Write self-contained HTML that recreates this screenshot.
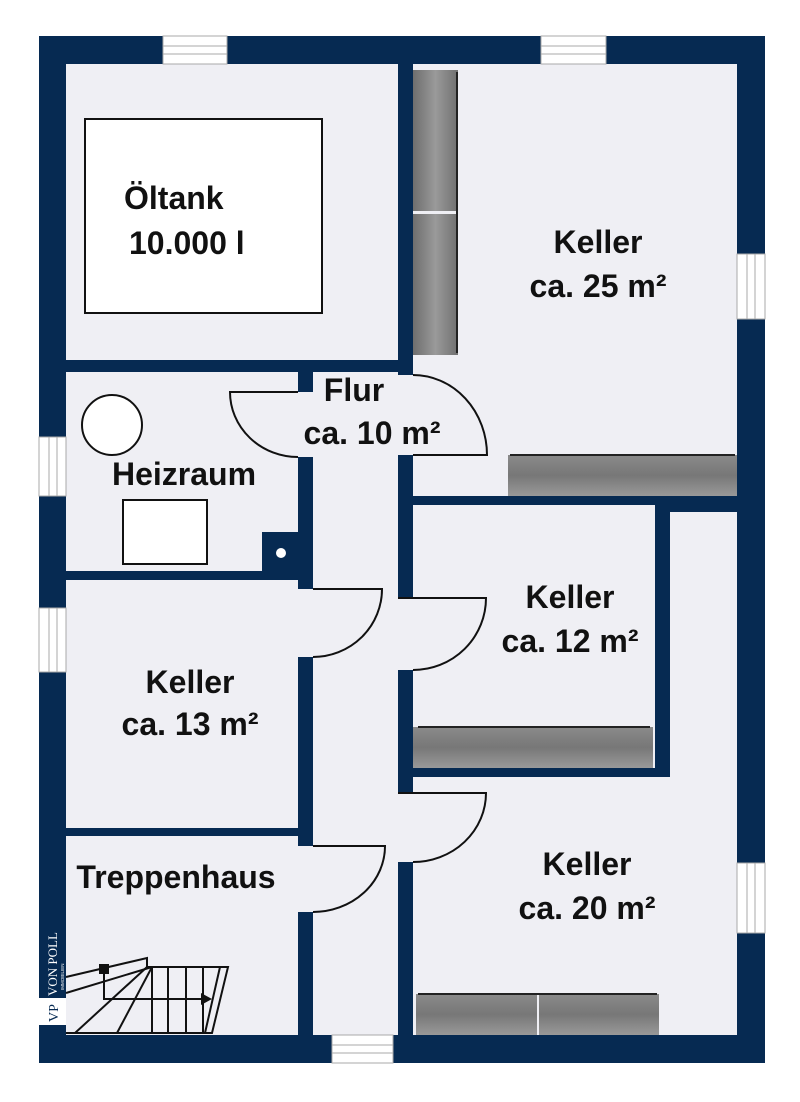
<!DOCTYPE html>
<html><head><meta charset="utf-8"><style>
html,body{margin:0;padding:0;background:#fff;}
svg{display:block;}
text{font-family:"Liberation Sans",Arial,sans-serif;font-weight:bold;fill:#111;}
</style></head><body>
<svg width="800" height="1102" viewBox="0 0 800 1102" xmlns="http://www.w3.org/2000/svg">
<defs>
<linearGradient id="gv" x1="0" y1="0" x2="1" y2="0"><stop offset="0" stop-color="#6e6e6e"/><stop offset="0.5" stop-color="#9a9a9a"/><stop offset="1" stop-color="#707070"/></linearGradient>
<linearGradient id="gh" x1="0" y1="0" x2="0" y2="1"><stop offset="0" stop-color="#8a8a8a"/><stop offset="0.5" stop-color="#777"/><stop offset="1" stop-color="#999"/></linearGradient>
</defs>
<rect x="39" y="36" width="726" height="1027" fill="#062a52"/>
<g fill="#efeff4">
<rect x="66" y="64" width="332" height="296"/>
<rect x="413" y="64" width="324" height="432"/>
<rect x="66" y="372" width="232" height="199"/>
<rect x="313" y="372" width="85" height="663"/>
<rect x="66" y="580" width="232" height="248"/>
<rect x="66" y="836" width="232" height="199"/>
<rect x="413" y="505" width="242" height="263"/>
<rect x="670" y="512" width="67" height="265"/>
<rect x="413" y="777" width="324" height="258"/>
<rect x="298" y="392" width="15" height="65"/>
<rect x="398" y="375" width="15" height="80"/>
<rect x="298" y="589" width="15" height="68"/>
<rect x="398" y="598" width="15" height="72"/>
<rect x="398" y="793" width="15" height="69"/>
<rect x="298" y="846" width="15" height="66"/>
</g>
<rect x="262" y="532" width="36" height="48" fill="#062a52"/>
<circle cx="281" cy="553" r="5" fill="#fff"/>
<g fill="#fff" stroke="#aaa" stroke-width="1">
<rect x="163" y="36" width="64" height="28"/><line x1="163" y1="46" x2="227" y2="46"/><line x1="163" y1="54" x2="227" y2="54"/>
<rect x="541" y="36" width="65" height="28"/><line x1="541" y1="46" x2="606" y2="46"/><line x1="541" y1="54" x2="606" y2="54"/>
<rect x="332" y="1035" width="61" height="28"/><line x1="332" y1="1045" x2="393" y2="1045"/><line x1="332" y1="1053" x2="393" y2="1053"/>
<rect x="39" y="437" width="27" height="59"/><line x1="49" y1="437" x2="49" y2="496"/><line x1="57" y1="437" x2="57" y2="496"/>
<rect x="39" y="608" width="27" height="64"/><line x1="49" y1="608" x2="49" y2="672"/><line x1="57" y1="608" x2="57" y2="672"/>
<rect x="737" y="254" width="28" height="65"/><line x1="747" y1="254" x2="747" y2="319"/><line x1="755" y1="254" x2="755" y2="319"/>
<rect x="737" y="863" width="28" height="70"/><line x1="747" y1="863" x2="747" y2="933"/><line x1="755" y1="863" x2="755" y2="933"/>
</g>
<rect x="413" y="70" width="45" height="141" fill="url(#gv)"/>
<rect x="413" y="214" width="45" height="141" fill="url(#gv)"/>
<line x1="457" y1="72" x2="457" y2="353" stroke="#222" stroke-width="2"/>
<rect x="508" y="455" width="229" height="41" fill="url(#gh)"/>
<line x1="510" y1="455" x2="735" y2="455" stroke="#222" stroke-width="2"/>
<rect x="413" y="727" width="240" height="41" fill="url(#gh)"/>
<line x1="418" y1="727" x2="650" y2="727" stroke="#222" stroke-width="2"/>
<rect x="416" y="994" width="121" height="41" fill="url(#gh)"/>
<rect x="539" y="994" width="120" height="41" fill="url(#gh)"/>
<line x1="418" y1="994" x2="657" y2="994" stroke="#222" stroke-width="2"/>
<rect x="85" y="119" width="237" height="194" fill="#fff" stroke="#111" stroke-width="2"/>
<circle cx="112" cy="425" r="30" fill="#fff" stroke="#111" stroke-width="2"/>
<rect x="123" y="500" width="84" height="64" fill="#fff" stroke="#111" stroke-width="2"/>
<g fill="none" stroke="#111" stroke-width="2">
<path d="M298,392 L230,392 A68,65 0 0 0 298,457"/>
<path d="M413,455 L487,455 A74,80 0 0 0 413,375"/>
<path d="M313,589 L382,589 A69,68 0 0 1 313,657"/>
<path d="M398,598 L486,598 A73,72 0 0 1 413,670"/>
<path d="M398,793 L486,793 A73,69 0 0 1 413,862"/>
<path d="M313,846 L385,846 A72,66 0 0 1 313,912"/>
</g>
<g fill="none" stroke="#111" stroke-width="2">
<path d="M66,1033 L212,1033 L228,967 L147,967 L147,958 L66,977"/>
<line x1="220" y1="967" x2="205" y2="1033"/>
<line x1="66" y1="993" x2="152" y2="967"/>
<line x1="75" y1="1033" x2="147" y2="967"/>
<line x1="117" y1="1033" x2="152" y2="967"/>
<line x1="152" y1="967" x2="152" y2="1033"/>
<line x1="168" y1="967" x2="168" y2="1033"/>
<line x1="186" y1="967" x2="186" y2="1033"/>
<line x1="203" y1="967" x2="203" y2="1033"/>
<path d="M104,969 L104,999 L203,999"/>
</g>
<rect x="99" y="964" width="10" height="10" fill="#111"/>
<path d="M201,993 L212,999 L201,1005 Z" fill="#111"/>
<text transform="translate(57,996) rotate(-90)" font-size="13" style="font-family:'Liberation Serif',serif;font-weight:normal;fill:#fff">VON POLL</text>
<text transform="translate(64,990) rotate(-90)" font-size="4.5" style="font-weight:normal;fill:#fff">IMMOBILIEN</text>
<rect x="39" y="998" width="27" height="27" fill="#fff"/>
<text transform="translate(58,1022) rotate(-90)" font-size="14" style="font-family:'Liberation Serif',serif;font-weight:normal;fill:#062a52">VP</text>
<g font-size="32">
<text x="124" y="209">Öltank</text>
<text x="129" y="254">10.000 l</text>
<text x="354" y="401" text-anchor="middle">Flur</text>
<text x="372" y="444" text-anchor="middle">ca. 10 m²</text>
<text x="184" y="485" text-anchor="middle">Heizraum</text>
<text x="598" y="253" text-anchor="middle">Keller</text>
<text x="598" y="297" text-anchor="middle">ca. 25 m²</text>
<text x="570" y="608" text-anchor="middle">Keller</text>
<text x="570" y="652" text-anchor="middle">ca. 12 m²</text>
<text x="190" y="693" text-anchor="middle">Keller</text>
<text x="190" y="735" text-anchor="middle">ca. 13 m²</text>
<text x="176" y="888" text-anchor="middle">Treppenhaus</text>
<text x="587" y="875" text-anchor="middle">Keller</text>
<text x="587" y="919" text-anchor="middle">ca. 20 m²</text>
</g>
</svg>
</body></html>
